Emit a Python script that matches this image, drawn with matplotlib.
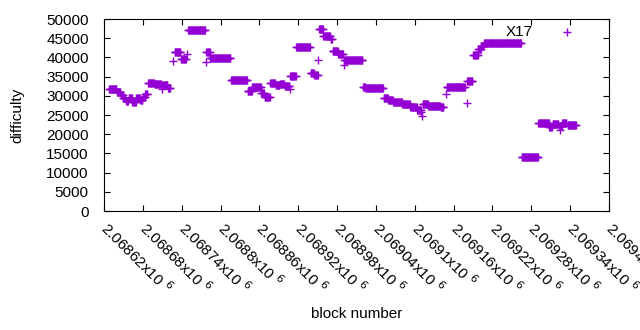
import numpy as np
import matplotlib
matplotlib.use('Agg')
import matplotlib.pyplot as plt

plt.rcParams['font.family'] = ['Liberation Sans', 'DejaVu Sans']

# runs of blocks with (visually) constant difficulty: first block, last block, difficulty
seg_start = [2068628, 2068640, 2068646, 2068650, 2068654, 2068658, 2068664, 2068670, 2068676,
             2068680, 2068684, 2068688, 2068698, 2068709, 2068710, 2068719, 2068726, 2068729,
             2068739, 2068748, 2068750, 2068777, 2068778, 2068784, 2068816, 2068842, 2068849,
             2068863, 2068868, 2068877, 2068885, 2068892, 2068899, 2068907, 2068908, 2068917,
             2068939, 2068945, 2068951, 2068952, 2068959, 2068970, 2068973, 2068982, 2068990,
             2068991, 2069020, 2069024, 2069052, 2069059, 2069067, 2069081, 2069093, 2069104,
             2069110, 2069111, 2069112, 2069121, 2069140, 2069148, 2069149, 2069180, 2069181,
             2069190, 2069198, 2069203, 2069207, 2069265, 2069291, 2069308, 2069313, 2069322,
             2069325, 2069328, 2069335, 2069336]
seg_end = [2068639, 2068645, 2068649, 2068653, 2068657, 2068663, 2068669, 2068675, 2068679,
           2068683, 2068687, 2068697, 2068708, 2068709, 2068718, 2068722, 2068726, 2068738,
           2068746, 2068748, 2068776, 2068777, 2068783, 2068815, 2068841, 2068848, 2068862,
           2068867, 2068876, 2068884, 2068891, 2068898, 2068906, 2068907, 2068916, 2068938,
           2068944, 2068950, 2068951, 2068958, 2068969, 2068972, 2068981, 2068989, 2068990,
           2069019, 2069023, 2069051, 2069058, 2069066, 2069080, 2069092, 2069103, 2069109,
           2069110, 2069111, 2069120, 2069139, 2069144, 2069148, 2069177, 2069180, 2069189,
           2069197, 2069202, 2069206, 2069264, 2069290, 2069307, 2069312, 2069321, 2069327,
           2069325, 2069334, 2069335, 2069349]
seg_diff = [31650, 31000, 30200, 29500, 28600, 29400, 28500, 29300, 28900,
            29800, 30500, 33400, 33100, 31700, 32700, 32100, 39100, 41300,
            39600, 41000, 47050, 38700, 41300, 39750, 34000, 31200, 32300,
            30700, 29700, 33300, 32800, 33200, 32600, 31900, 35200, 42600,
            35900, 35400, 39200, 47400, 45700, 44900, 41700, 40800, 37900,
            39300, 32300, 32000, 29400, 28900, 28400, 27800, 27150, 26400,
            25900, 24800, 27900, 27350, 27000, 30600, 32200, 28100, 33900,
            40700, 42200, 43100, 43650, 14000, 22900, 22000, 22700, 22100,
            21200, 23000, 46500, 22400]

blocks = []
diffs = []
for s, e, d in zip(seg_start, seg_end, seg_diff):
    for b in range(s, e + 1):
        blocks.append(b)
        diffs.append(d)

xticks = np.arange(2068620, 2069401, 60)
xlabels = ['%gx10 $^{6}$' % (v / 1e6) for v in xticks]

fig = plt.figure(figsize=(6.4, 3.3), dpi=100)
ax = fig.add_axes([0.1625, 0.3606, 0.7891, 0.5818])
ax.plot(blocks, diffs, '+', color='#9400d3', markersize=6, markeredgewidth=1.0)

ax.set_xlim(2068620, 2069400)
ax.set_ylim(0, 50000)
ax.set_yticks(np.arange(0, 50001, 5000))
ax.set_xticks(xticks)
ax.set_xticklabels(xlabels, rotation=-45, ha='left', va='center', rotation_mode='anchor')
ax.tick_params(direction='in', top=True, right=True, length=4, labelsize=11, width=0.8)
ax.tick_params(axis='x', pad=10)
ax.tick_params(axis='y', pad=11)
for sp in ax.spines.values():
    sp.set_linewidth(0.8)

ax.text(2069241, 46700, 'X17', fontsize=11, ha='left', va='center')
ax.set_ylabel('difficulty', fontsize=11)
ax.yaxis.set_label_coords(-0.158, 0.5)
ax.set_xlabel('block number', fontsize=11)
ax.xaxis.set_label_coords(0.5, -0.5)

fig.savefig('out.png', dpi=100)
